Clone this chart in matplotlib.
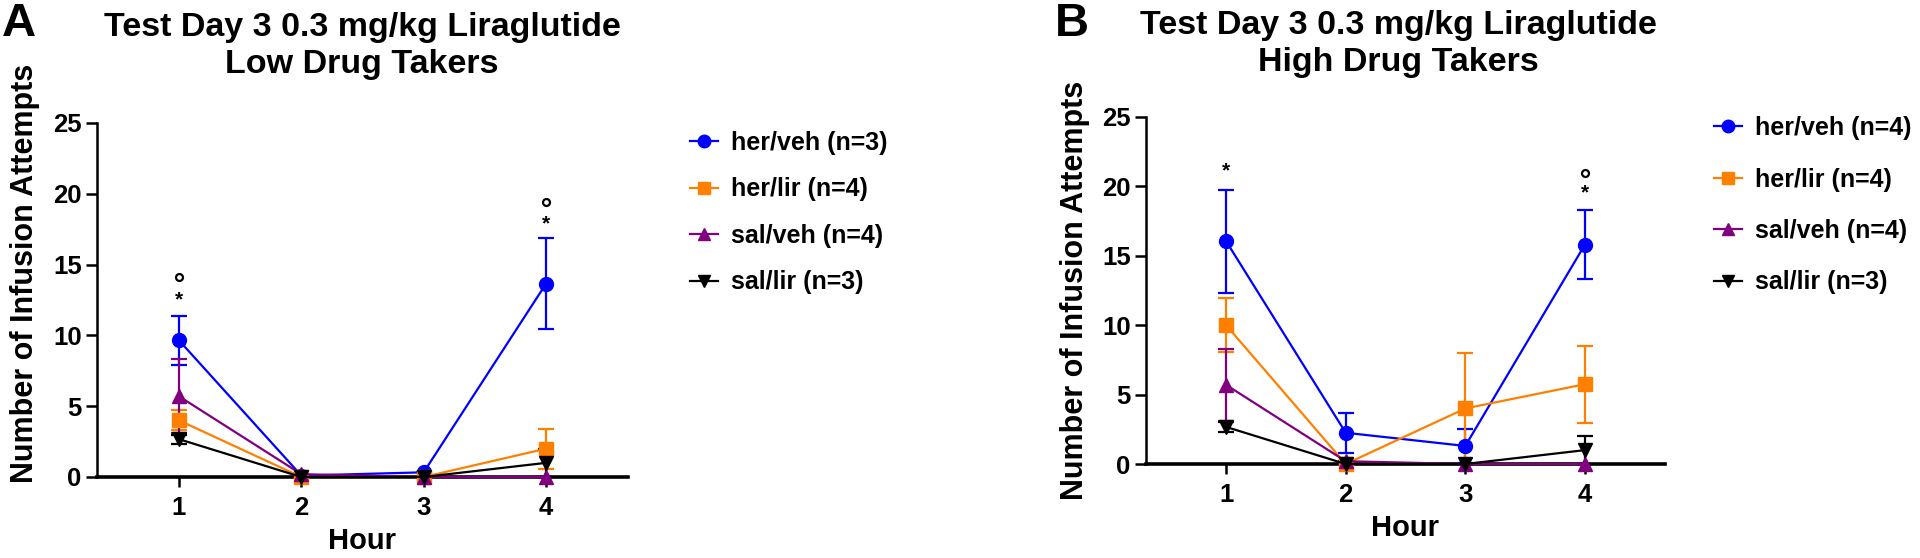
import matplotlib
matplotlib.use("Agg")
import matplotlib.pyplot as plt
from matplotlib.lines import Line2D

plt.rcParams["font.family"] = ["Liberation Sans", "DejaVu Sans"]
plt.rcParams["font.weight"] = "bold"

# ---- data ----
hours = [1, 2, 3, 4]
groups = ["her/veh", "her/lir", "sal/veh", "sal/lir"]
colors = ["#0000FF", "#FF8000", "#800080", "#000000"]
markers = ["o", "s", "^", "v"]

# panel A: low drug takers
low_n = [3, 4, 4, 3]
low_mean = [
    [9.65, 0.1, 0.33, 13.65],
    [4.0, 0.0, 0.0, 2.0],
    [5.7, 0.2, 0.0, 0.0],
    [2.67, 0.0, 0.0, 1.0],
]
low_sem = [
    [1.75, 0.0, 0.0, 3.2],
    [0.7, 0.0, 0.0, 1.4],
    [2.6, 0.0, 0.0, 0.0],
    [0.33, 0.0, 0.0, 1.0],
]
low_star = [(1, 12.5), (4, 17.9)]
low_circ = [(1, 14.1), (4, 19.45)]

# panel B: high drug takers
high_n = [4, 4, 4, 3]
high_mean = [
    [16.05, 2.25, 1.3, 15.8],
    [10.0, 0.0, 4.0, 5.75],
    [5.7, 0.2, 0.0, 0.0],
    [2.67, 0.0, 0.0, 1.0],
]
high_sem = [
    [3.7, 1.45, 1.25, 2.5],
    [1.95, 0.0, 4.0, 2.77],
    [2.6, 0.0, 0.0, 0.0],
    [0.33, 0.0, 0.0, 1.0],
]
high_star = [(1, 21.1), (4, 19.5)]
high_circ = [(4, 21.0)]

W, H = 1920, 558
fig = plt.figure(figsize=(W / 100, H / 100), dpi=100)


def px_axes(x0, x1, y_top, y_zero):
    return fig.add_axes([x0 / W, 1 - y_zero / H, (x1 - x0) / W, (y_zero - y_top) / H])


def draw_panel(ax, means, sems, stars, circs):
    for m, s, c, mk in zip(means, sems, colors, markers):
        ax.errorbar(hours, m, yerr=s, color=c, lw=1.6, elinewidth=1.6,
                    capsize=5.5, capthick=1.6, marker=mk, ms=10,
                    mec=c, mfc=c, clip_on=False, zorder=3)
    for x, y in stars:
        ax.text(x, y, "*", ha="center", va="center", fontsize=15)
    for x, y in circs:
        ax.plot(x, y, marker="o", ms=5, mfc="none", mec="black", mew=1.6,
                clip_on=False)
    ax.set_xlim(0.33, 4.67)
    ax.set_ylim(0, 25)
    ax.set_xticks(hours)
    ax.set_yticks([0, 5, 10, 15, 20, 25])
    for s in ["top", "right"]:
        ax.spines[s].set_visible(False)
    ax.spines["bottom"].set_linewidth(2.6)
    ax.spines["left"].set_linewidth(1.8)
    ax.tick_params(axis="x", length=7, width=1.8, labelsize=18.5, pad=7)
    ax.tick_params(axis="y", length=8, width=1.8, labelsize=18.5, pad=3)
    for lab in ax.get_xticklabels() + ax.get_yticklabels():
        lab.set_fontweight("bold")


def add_legend(ns, x_px, y_px, spacing):
    handles = [Line2D([], [], color=c, marker=mk, ms=9, lw=1.6)
               for c, mk in zip(colors, markers)]
    labels = [f"{g} (n={n})" for g, n in zip(groups, ns)]
    fig.legend(handles, labels, loc="upper left",
               bbox_to_anchor=(x_px / W, 1 - y_px / H), frameon=False,
               fontsize=18, handlelength=1.1, handletextpad=0.55,
               labelspacing=spacing, borderaxespad=0, borderpad=0)


# ---- panel A ----
axA = px_axes(97, 628, 123, 477)
draw_panel(axA, low_mean, low_sem, low_star, low_circ)
add_legend(low_n, 690, 131, 0.9)
fig.text(2 / W, 1 - 24 / H, "A", fontsize=34, va="center", ha="left")
fig.text(362 / W, 1 - 46 / H, "Test Day 3 0.3 mg/kg Liraglutide\nLow Drug Takers",
         fontsize=24.5, ha="center", va="center", linespacing=1.22)
fig.text(25 / W, 1 - 273 / H, "Number of Infusion Attempts", fontsize=22,
         rotation=90, ha="center", va="center")
fig.text(362 / W, 1 - 541 / H, "Hour", fontsize=21, ha="center", va="center")

# ---- panel B ----
axB = px_axes(1146, 1665, 117, 464)
draw_panel(axB, high_mean, high_sem, high_star, high_circ)
add_legend(high_n, 1714, 116, 1.1)
fig.text(1055 / W, 1 - 24 / H, "B", fontsize=34, va="center", ha="left")
fig.text(1398 / W, 1 - 44 / H, "Test Day 3 0.3 mg/kg Liraglutide\nHigh Drug Takers",
         fontsize=24.5, ha="center", va="center", linespacing=1.22)
fig.text(1075 / W, 1 - 290 / H, "Number of Infusion Attempts", fontsize=22,
         rotation=90, ha="center", va="center")
fig.text(1405 / W, 1 - 528 / H, "Hour", fontsize=21, ha="center", va="center")

fig.savefig("out.png", dpi=100)
